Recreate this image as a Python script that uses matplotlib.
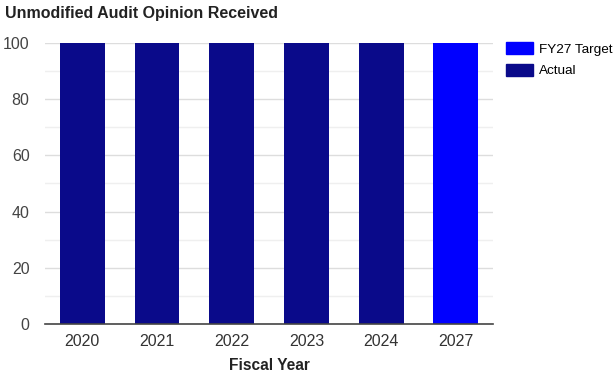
import matplotlib
matplotlib.use('Agg')
import matplotlib.pyplot as plt
from matplotlib.patches import Patch

years = ['2020', '2021', '2022', '2023', '2024', '2027']
values = [100, 100, 100, 100, 100, 100]
kinds = ['Actual', 'Actual', 'Actual', 'Actual', 'Actual', 'FY27 Target']
colors = {'Actual': '#0a0a8a', 'FY27 Target': '#0000ff'}

plt.rcParams['font.family'] = ['Liberation Sans', 'DejaVu Sans']
fig = plt.figure(figsize=(6.15, 3.74), dpi=100)
ax = fig.add_axes([0.073, 0.134, 0.729, 0.751])
x = range(len(years))
ax.bar(x, values, 0.6, color=[colors[k] for k in kinds], zorder=3)
ax.set_xlim(-0.5, len(years) - 0.5)
ax.set_ylim(0, 100)
ax.set_xticks(list(x))
ax.set_xticklabels(years, fontsize=11.5, color='#333333')
ax.set_yticks(range(0, 101, 20))
ax.set_yticks(range(10, 100, 20), minor=True)
ax.tick_params(axis='y', which='both', length=0, labelsize=11.5, labelcolor='#444444', pad=11)
ax.tick_params(axis='x', length=0, pad=7)
ax.grid(axis='y', which='major', color='#dddddd', linewidth=1, zorder=0)
ax.grid(axis='y', which='minor', color='#efefef', linewidth=1, zorder=0)
for s in ['top', 'right', 'left']:
    ax.spines[s].set_visible(False)
ax.spines['bottom'].set_color('#444444')
ax.spines['bottom'].set_linewidth(1.2)
ax.spines['bottom'].set_zorder(4)
ax.set_xlabel('Fiscal Year', fontsize=11.2, fontweight='bold', color='#222222', labelpad=7)
fig.text(0.008, 0.965, 'Unmodified Audit Opinion Received', fontsize=11.5,
         fontweight='bold', color='#222222', va='center', ha='left')
handles = [Patch(color=colors['FY27 Target'], label='FY27 Target'),
           Patch(color=colors['Actual'], label='Actual')]
fig.legend(handles=handles, loc='upper left', bbox_to_anchor=(0.822, 0.888),
           frameon=False, fontsize=9.7, handlelength=2.05, handleheight=1.0,
           handletextpad=0.45, labelspacing=0.6, borderaxespad=0, borderpad=0)
fig.savefig('out.png', dpi=100)
